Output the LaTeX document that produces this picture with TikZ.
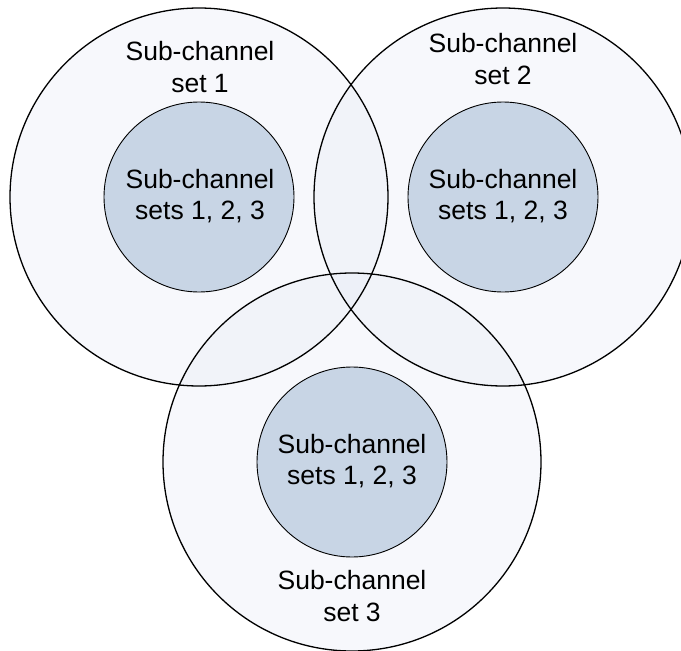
\documentclass[tikz,border=0pt]{standalone}
\usepackage{fontspec}
\setmainfont{Liberation Sans}
\definecolor{outerfill}{HTML}{E3E8F4}
\definecolor{innerfill}{HTML}{C8D5E5}
\begin{document}
\begin{tikzpicture}[x=1pt,y=-1pt,
  zonefill/.style={fill=outerfill, fill opacity=0.3},
  zoneline/.style={draw=black, line width=1.3pt},
  corefill/.style={fill=innerfill},
  coreline/.style={draw=black, line width=0.9pt},
  caption/.style={align=center, inner sep=0pt,
    font=\fontsize{26.5}{31.5}\selectfont}]
  \clip (0,0) rectangle (681,651);
  % centres of the three coverage zones and their cores
  \coordinate (z1) at (199,197);
  \coordinate (z2) at (503,197);
  \coordinate (z3) at (352,462);
  % translucent zone fills first, so the outlines stay crisp on top
  \foreach \z in {z1,z2,z3} \fill[zonefill] (\z) circle[radius=189];
  \foreach \z in {z1,z2,z3} \fill[corefill] (\z) circle[radius=95];
  \foreach \z in {z1,z2,z3} \draw[zoneline] (\z) circle[radius=189];
  \foreach \z in {z1,z2,z3} \draw[coreline] (\z) circle[radius=95];
  % labels
  \node[caption] (s1) at (200,67)  {Sub-channel\\set 1};
  \node[caption] (s2) at (503,59)  {Sub-channel\\set 2};
  \node[caption] (s3) at (352,596) {Sub-channel\\set 3};
  \node[caption] (c1) at (200,196) {Sub-channel\\sets 1, 2, 3};
  \node[caption] (c2) at (503,196) {Sub-channel\\sets 1, 2, 3};
  \node[caption] (c3) at (352,461) {Sub-channel\\sets 1, 2, 3};
\end{tikzpicture}
\end{document}
